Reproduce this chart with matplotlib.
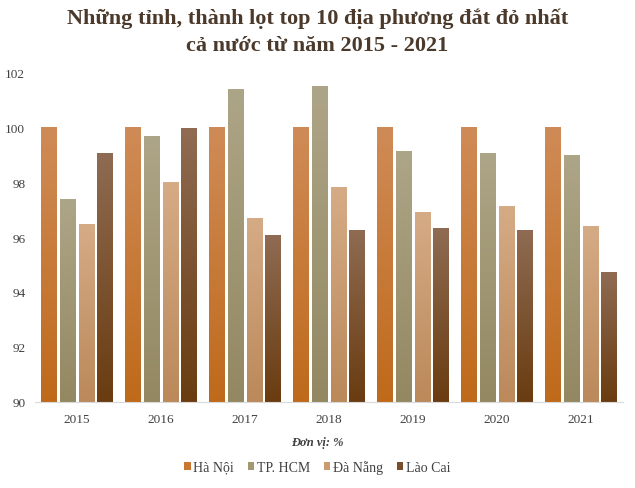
import matplotlib
matplotlib.use("Agg")
import matplotlib.pyplot as plt
import numpy as np
from matplotlib.patches import Patch
from matplotlib.colors import to_rgb

plt.rcParams['font.family'] = ['Liberation Serif', 'DejaVu Serif']

years = ['2015', '2016', '2017', '2018', '2019', '2020', '2021']
series_names = ['Hà Nội', 'TP. HCM', 'Đà Nẵng', 'Lào Cai']
ha_noi = [100, 100, 100, 100, 100, 100, 100]
tp_hcm = [97.35, 99.65, 101.38, 101.46, 99.1, 99.05, 98.95]
da_nang = [96.45, 97.98, 96.68, 97.8, 96.9, 97.1, 96.38]
lao_cai = [99.04, 99.96, 96.05, 96.25, 96.3, 96.25, 94.71]
yticks = [90, 92, 94, 96, 98, 100, 102]

values = [ha_noi, tp_hcm, da_nang, lao_cai]
top_colors = ['#CF8B57', '#ADA587', '#D5AB86', '#8E6B52']
bot_colors = ['#BF6A1B', '#938861', '#BB895A', '#6A3C10']
legend_colors = ['#C8782F', '#A09773', '#C99B70', '#7A4E2A']

fig = plt.figure(figsize=(6.35, 4.89), dpi=100)
ax = fig.add_axes([35/635, 86/489, 588/635, 330/489])

x = np.arange(len(years))
bw = 0.19
step = 0.226
ymin = 90
for i, vals in enumerate(values):
    offs = (i - 1.5) * step
    t = np.array(to_rgb(top_colors[i]))
    b = np.array(to_rgb(bot_colors[i]))
    grad = np.linspace(0, 1, 64)[:, None, None]
    img = t[None, None, :] * (1 - grad) + b[None, None, :] * grad
    for xi, v in zip(x, vals):
        x0 = xi + offs - bw / 2
        ax.imshow(img, extent=[x0, x0 + bw, ymin, v], aspect='auto',
                  origin='upper', zorder=2, interpolation='bilinear')

ax.set_xlim(-0.5, len(years) - 0.5)
ax.set_ylim(90, 102)
ax.set_yticks(yticks)
ax.set_yticklabels([str(v) for v in yticks])
ax.set_xticks(x)
ax.set_xticklabels(years)
for s in ['top', 'right', 'left']:
    ax.spines[s].set_visible(False)
ax.spines['bottom'].set_color('#D9D9D9')
ax.tick_params(axis='both', length=0, labelsize=9.5, colors='#404040')
ax.tick_params(axis='x', pad=8)
ax.tick_params(axis='y', pad=7)

fig.text(0.5, 1 - 19/489, 'Những tỉnh, thành lọt top 10 địa phương đắt đỏ nhất',
         ha='center', va='center', fontsize=16, fontweight='bold', color='#4B3A2B')
fig.text(0.5, 1 - 46/489, 'cả nước từ năm 2015 - 2021',
         ha='center', va='center', fontsize=16, fontweight='bold', color='#4B3A2B')
fig.text(0.5, 1 - 443/489, 'Đơn vị: %', ha='center', va='center', fontsize=9,
         fontweight='bold', fontstyle='italic', color='#404040')

handles = [Patch(facecolor=c, edgecolor='none') for c in legend_colors]
fig.legend(handles, series_names, loc='center', bbox_to_anchor=(0.5, 1 - 468/489),
           ncol=4, frameon=False, fontsize=10, handlelength=0.45, handleheight=0.45,
           handletextpad=0.2, columnspacing=1.0, labelcolor='#404040')

fig.savefig('out.png', dpi=100)
